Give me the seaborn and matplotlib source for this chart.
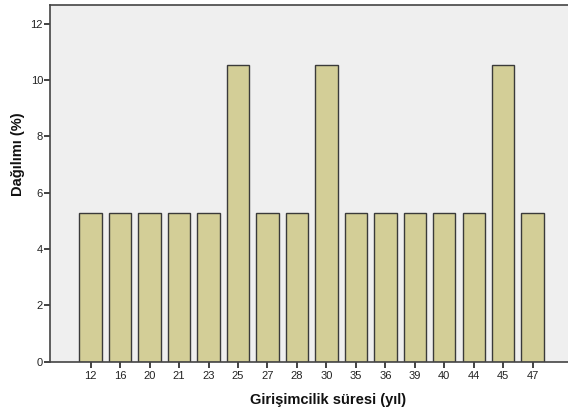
import pandas as pd
import seaborn as sns
import matplotlib.pyplot as plt

# Girisimcilik suresi dagilimi
sure = ["12", "16", "20", "21", "23", "25", "27", "28", "30", "35", "36", "39", "40", "44", "45", "47"]
yuzde = [5.26, 5.26, 5.26, 5.26, 5.26, 10.53, 5.26, 5.26, 10.53, 5.26, 5.26, 5.26, 5.26, 5.26, 10.53, 5.26]

df = pd.DataFrame({"sure": sure, "yuzde": yuzde})

sns.set_style("ticks")
plt.rcParams["font.family"] = ["Liberation Sans", "DejaVu Sans"]

fig = plt.figure(figsize=(5.68, 4.18), dpi=100)
ax = fig.add_axes([50 / 568, 56.5 / 418, 518 / 568, 356.5 / 418])
ax.set_facecolor("#efefef")

sns.barplot(data=df, x="sure", y="yuzde", order=sure, color="#d3ce97",
            saturation=1, width=0.76, edgecolor="#3a3a3a", linewidth=1, ax=ax)

ax.set_xlim(-1.38, 16.2)
ax.set_ylim(0, 12.66)
ax.set_yticks([0, 2, 4, 6, 8, 10, 12])
ax.tick_params(axis="both", labelsize=8, colors="#222222", length=4, width=1.2, direction="out")
ax.tick_params(axis="y", pad=1)
ax.tick_params(axis="x", pad=3)

for s in ["left", "bottom", "top"]:
    ax.spines[s].set_color("#444444")
    ax.spines[s].set_linewidth(1.2)
ax.spines["top"].set_visible(True)
ax.spines["right"].set_visible(False)

ax.set_xlabel("Girişimcilik süresi (yıl)", fontsize=10.5, fontweight="bold", color="#111111")
ax.set_ylabel("Dağılımı (%)", fontsize=10.5, fontweight="bold", color="#111111")
ax.xaxis.set_label_coords(0.537, -0.088)
ax.yaxis.set_label_coords(-0.048, 0.581)

fig.savefig("out.png", dpi=100, facecolor="white")
